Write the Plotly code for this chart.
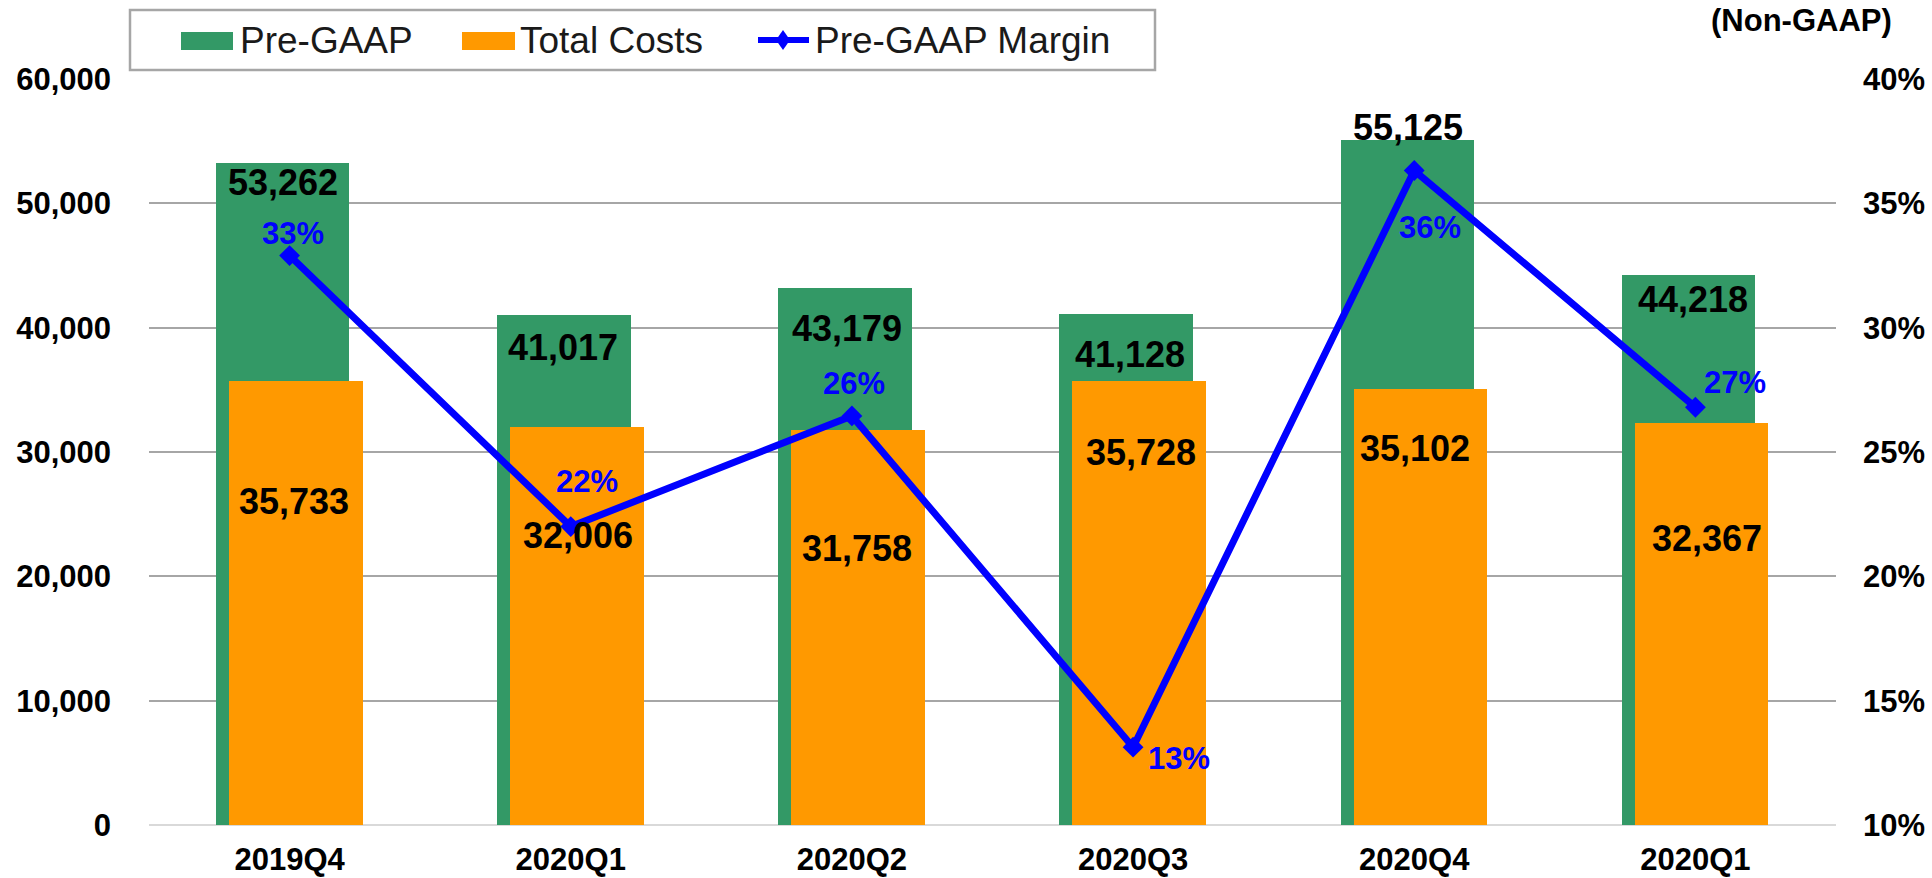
import plotly.graph_objects as go

categories = ["2019Q4", "2020Q1", "2020Q2", "2020Q3", "2020Q4", "2020Q1"]
pre_gaap = [53262, 41017, 43179, 41128, 55125, 44218]
total_costs = [35733, 32006, 31758, 35728, 35102, 32367]
margin_pct = [32.9, 22.0, 26.45, 13.13, 36.32, 26.8]
margin_labels = ["33%", "22%", "26%", "13%", "36%", "27%"]

# label placement offsets (pixels): (dx, dy) with dy positive = up
green_lbl_off = [(-7, -20), (-8, -32), (-5, -40), (-3, -41), (-6, 12), (-2, -24)]
orange_lbl_off = [(4, -121), (7, -108), (5, -118), (8, -72), (1, -60), (12, -116)]
pct_lbl_off = [(3, 22), (16, 45), (2, 32), (46, -11), (16, -57), (40, 25)]

GREEN = "#339966"
ORANGE = "#FF9900"
BLUE = "#0000FF"
FONT = "Arial, Liberation Sans, sans-serif"

# plot area in pixels
L, R, T, B = 149, 1836, 79, 825
W = R - L
H = B - T


def px(x):
    return (x - L) / W


def py(y):
    return (B - y) / H


xs = list(range(len(categories)))

fig = go.Figure()
fig.add_trace(go.Bar(
    x=xs, y=pre_gaap, name="Pre-GAAP", marker_color=GREEN,
    width=0.475, offset=-0.262, marker_line_width=0, showlegend=False,
))
fig.add_trace(go.Bar(
    x=xs, y=total_costs, name="Total Costs", marker_color=ORANGE,
    width=0.475, offset=-0.2155, marker_line_width=0, showlegend=False,
))
fig.add_trace(go.Scatter(
    x=xs, y=margin_pct, name="Pre-GAAP Margin", yaxis="y2", mode="lines+markers",
    line=dict(color=BLUE, width=7), marker=dict(symbol="diamond", size=16, color=BLUE),
    showlegend=False,
))

annotations = []
for i, v in enumerate(pre_gaap):
    dx, dy = green_lbl_off[i]
    annotations.append(dict(x=xs[i], y=v, xref="x", yref="y", text=f"<b>{v:,}</b>", showarrow=False,
                            xshift=dx, yshift=dy, font=dict(family=FONT, size=36, color="black"),
                            xanchor="center", yanchor="middle"))
for i, v in enumerate(total_costs):
    dx, dy = orange_lbl_off[i]
    annotations.append(dict(x=xs[i], y=v, xref="x", yref="y", text=f"<b>{v:,}</b>", showarrow=False,
                            xshift=dx, yshift=dy, font=dict(family=FONT, size=36, color="black"),
                            xanchor="center", yanchor="middle"))
for i, v in enumerate(margin_pct):
    dx, dy = pct_lbl_off[i]
    annotations.append(dict(x=xs[i], y=v, xref="x", yref="y2", text=f"<b>{margin_labels[i]}</b>",
                            showarrow=False, xshift=dx, yshift=dy,
                            font=dict(family=FONT, size=31, color=BLUE),
                            xanchor="center", yanchor="middle"))

# top-right note
annotations.append(dict(x=px(1801), y=py(21), xref="paper", yref="paper", text="<b>(Non-GAAP)</b>",
                        showarrow=False, font=dict(family=FONT, size=31, color="black"),
                        xanchor="center", yanchor="middle"))

# manual legend
legend_font = dict(family=FONT, size=37, color="#1a1a1a")
shapes = [
    dict(type="rect", xref="paper", yref="paper", x0=px(130), x1=px(1155), y0=py(70), y1=py(10),
         line=dict(color="#A6A6A6", width=2.5), fillcolor="white", layer="above"),
    dict(type="rect", xref="paper", yref="paper", x0=px(181), x1=px(233), y0=py(50), y1=py(32),
         line=dict(width=0), fillcolor=GREEN, layer="above"),
    dict(type="rect", xref="paper", yref="paper", x0=px(462), x1=px(515), y0=py(50), y1=py(32),
         line=dict(width=0), fillcolor=ORANGE, layer="above"),
    dict(type="line", xref="paper", yref="paper", x0=px(758), x1=px(809), y0=py(40), y1=py(40),
         line=dict(color=BLUE, width=6), layer="above"),
    dict(type="path", xref="paper", yref="paper", xsizemode="pixel", ysizemode="pixel",
         xanchor=px(783), yanchor=py(40), path="M -7 0 L 0 10 L 7 0 L 0 -10 Z",
         line=dict(width=0), fillcolor=BLUE, layer="above"),
]
for text, xleft in [("Pre-GAAP", 238), ("Total Costs", 518), ("Pre-GAAP Margin", 813)]:
    annotations.append(dict(x=px(xleft), y=py(41), xref="paper", yref="paper", text=text,
                            showarrow=False, font=legend_font, xanchor="left", yanchor="middle"))

tick_font = dict(family=FONT, size=31, color="black")

fig.update_layout(
    width=1932, height=878,
    margin=dict(l=L, r=1932 - R, t=T, b=878 - B, pad=0, autoexpand=False),
    plot_bgcolor="white", paper_bgcolor="white",
    barmode="overlay", bargap=0,
    showlegend=False,
    annotations=annotations,
    shapes=shapes,
    xaxis=dict(
        range=[-0.5, len(categories) - 0.5], tickvals=xs,
        ticktext=[f"<b>{c}</b>" for c in categories],
        tickfont=tick_font, showgrid=False, zeroline=False, showline=False,
        ticks="", ticklabelstandoff=13, automargin=False,
    ),
    yaxis=dict(
        range=[0, 60000], dtick=10000, tickformat=",", tickfont=tick_font,
        tickprefix="<b>", showgrid=True, gridcolor="#A6A6A6", gridwidth=2,
        zeroline=True, zerolinecolor="#D9D9D9", zerolinewidth=2,
        showline=False, ticks="", ticklabelstandoff=37, automargin=False,
    ),
    yaxis2=dict(
        range=[10, 40], dtick=5, ticksuffix="%", tickprefix="<b>", tickfont=tick_font,
        overlaying="y", side="right", showgrid=False, zeroline=False, showline=False,
        ticks="", ticklabelstandoff=26, automargin=False,
    ),
)

fig.write_html("out.html", config={"displayModeBar": False},
               post_script="document.body.style.margin='0';document.body.style.overflow='hidden';")
